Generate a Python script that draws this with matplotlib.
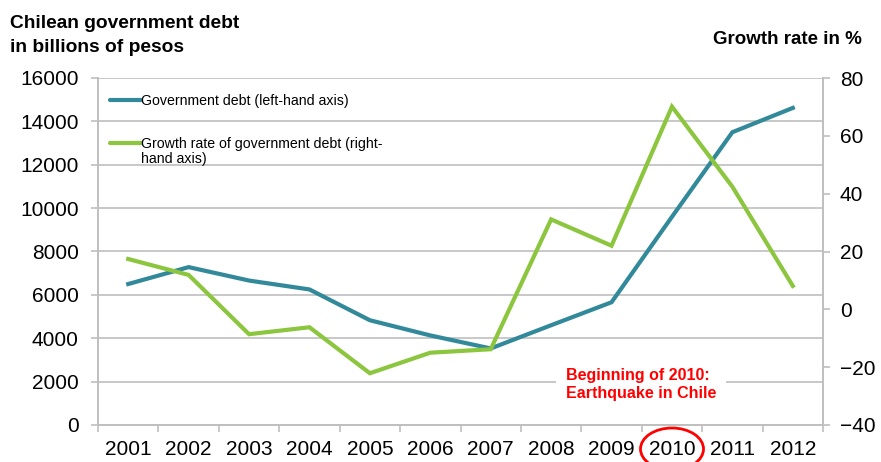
import matplotlib
matplotlib.use("Agg")
import matplotlib.pyplot as plt
from matplotlib.patches import Ellipse
from matplotlib.lines import Line2D
import numpy as np

plt.rcParams['font.family'] = ['Liberation Sans', 'DejaVu Sans']

years = ["2001", "2002", "2003", "2004", "2005", "2006", "2007", "2008", "2009", "2010", "2011", "2012"]
debt = [6500, 7280, 6660, 6250, 4830, 4130, 3530, 4600, 5660, 9600, 13500, 14620]
growth = [17.4, 11.9, -8.6, -6.2, -22.1, -15.0, -13.8, 31.1, 22.0, 70.1, 42.4, 8.1]

left_ticks = [0, 2000, 4000, 6000, 8000, 10000, 12000, 14000, 16000]
right_ticks = [-40, -20, 0, 20, 40, 60, 80]

label_debt = "Government debt (left-hand axis)"
label_growth = "Growth rate of government debt (right-\nhand axis)"

teal = "#31899A"
green = "#8CC63E"
gray = "#BFBFBF"

W, H = 881, 462
fig = plt.figure(figsize=(W / 100, H / 100), dpi=100)
ax = fig.add_axes([98/W, 37/H, 725/W, 347/H])
ax2 = ax.twinx()

x = np.arange(len(years))
l1, = ax.plot(x, debt, color=teal, lw=3.0, solid_joinstyle='miter', zorder=3)
l2, = ax2.plot(x, growth, color=green, lw=3.0, solid_joinstyle='miter', zorder=3)

ax.set_xlim(-0.5, len(years) - 0.5)
ax.set_ylim(0, 16000)
ax2.set_ylim(-40, 80)
ax.set_yticks(left_ticks)
ax2.set_yticks(right_ticks)

ax.set_xticks(np.arange(-0.5, len(years), 1.0))
ax.set_xticklabels([])
ax.set_xticks(x, minor=True)
ax.set_xticklabels(years, minor=True)
ax.tick_params(axis='x', which='major', length=5, color=gray, width=1.2)
ax.tick_params(axis='x', which='minor', length=0, pad=11, labelsize=15)
ax.tick_params(axis='y', length=5, color=gray, width=1.2, pad=9, labelsize=15)
ax2.tick_params(axis='y', length=5, color=gray, width=1.2, pad=7, labelsize=15)

ax.grid(axis='y', color=gray, lw=1.2)
ax.set_axisbelow(True)

for a in (ax, ax2):
    a.spines['top'].set_visible(False)
    for s in ('left', 'right', 'bottom'):
        a.spines[s].set_color(gray)
        a.spines[s].set_linewidth(1.2)

# legend (drawn manually to align the handle with the first text line)
def fx(px):
    return px / W

def fy(py):
    return 1 - py / H

for color, label, ypx in ((teal, label_debt, 100), (green, label_growth, 143)):
    fig.add_artist(Line2D([fx(110), fx(141)], [fy(ypx), fy(ypx)], color=color, lw=3.0,
                          solid_capstyle='round', transform=fig.transFigure))
    fig.text(fx(141), fy(ypx), label, fontsize=10.2, ha='left', va='center_baseline',
             linespacing=1.05, color='#000000') if '\n' not in label else \
        fig.text(fx(141), fy(ypx - 6), label, fontsize=10.2, ha='left', va='top',
                 linespacing=1.05, color='#000000')

fig.text(fx(10), fy(28), "Chilean government debt", fontsize=13.8,
         fontweight='bold', ha='left', va='baseline')
fig.text(fx(10), fy(52), "in billions of pesos", fontsize=13.8,
         fontweight='bold', ha='left', va='baseline')
fig.text(fx(862), fy(44), "Growth rate in %", fontsize=13.5, fontweight='bold',
         ha='right', va='baseline')

ax.text(7.25, 1850, "Beginning of 2010:\nEarthquake in Chile", color='#FF0000', fontsize=11.5,
        fontweight='bold', ha='left', va='center', linespacing=1.25,
        bbox=dict(facecolor='white', edgecolor='none', pad=7), zorder=4)

ell = Ellipse((fx(672), fy(449)), 63/W, 42/H, transform=fig.transFigure,
              fill=False, edgecolor='#FF0000', lw=2.0, clip_on=False)
fig.add_artist(ell)

fig.savefig("out.png", dpi=100)
